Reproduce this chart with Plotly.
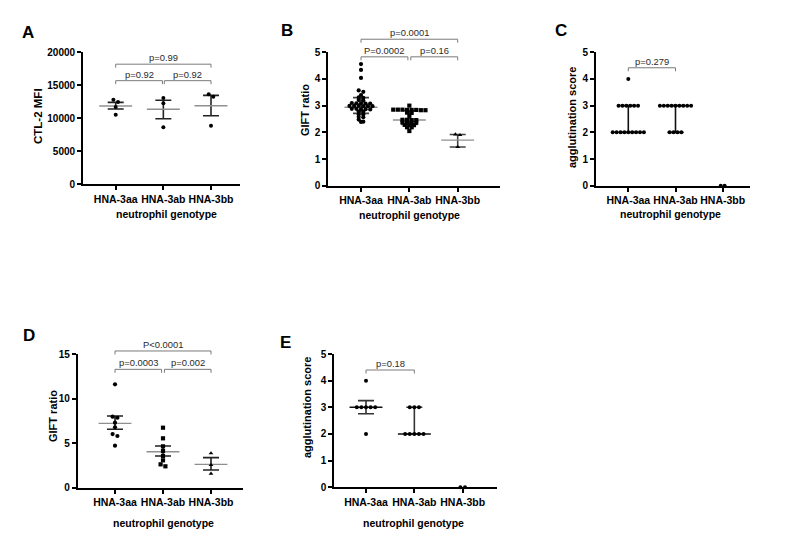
import numpy as np
import plotly.graph_objects as go

W, H = 800, 545

genotypes = ["HNA-3aa", "HNA-3ab", "HNA-3bb"]

# ---------------- Panel A: CTL-2 MFI ----------------
a_aa = [12470, 12820, 11710, 10545]
a_ab = [13076, 12273, 8636]
a_bb = [13636, 13273, 8879]
a_center = [11860, 11360, 11910]
a_low = [11410, 9940, 10390]
a_high = [12420, 12730, 13480]
a_ticks = [0, 5000, 10000, 15000, 20000]

# ---------------- Panel B: GIFT ratio ----------------
b_aa = [4.56, 4.34, 4.04, 3.57, 3.52, 3.40, 3.31, 3.29, 3.21, 3.19,
        3.10, 3.09, 3.09, 3.08, 3.08, 2.99, 2.99, 2.99, 2.98, 2.98, 2.98,
        2.88, 2.88, 2.87, 2.87, 2.86, 2.78, 2.77, 2.68, 2.67, 2.58, 2.57,
        2.48, 2.40, 2.39]
b_ab = [3.00, 2.85, 2.85, 2.85, 2.84, 2.84, 2.84, 2.83, 2.83, 2.74, 2.73, 2.62,
        2.47, 2.47, 2.46, 2.46, 2.37, 2.37, 2.36, 2.36, 2.28, 2.27, 2.27, 2.19,
        2.19, 2.05]
b_bb = [1.92, 1.90, 1.45]
b_center = [2.94, 2.46, 1.71]
b_low = [2.71, 2.30, 1.45]
b_high = [3.30, 2.82, 1.92]
b_ticks = [0, 1, 2, 3, 4, 5]

# ---------------- Panel C: agglutination score ----------------
c_aa = [2, 2, 2, 2, 2, 2, 2, 2, 2, 3, 3, 3, 3, 3, 3, 4]
c_ab = [2, 2, 2, 2, 3, 3, 3, 3, 3, 3, 3, 3, 3]
c_bb = [0, 0]
c_center = [2, 3]
c_low = [2, 2]
c_high = [3, 3]
c_ticks = [0, 1, 2, 3, 4, 5]

# ---------------- Panel D: GIFT ratio ----------------
d_aa = [11.6, 7.97, 7.85, 7.30, 6.78, 6.02, 5.80, 4.71]
d_ab = [6.73, 5.54, 4.64, 4.12, 3.56, 3.07, 2.62, 2.40]
d_bb = [3.86, 2.55, 1.57]
d_center = [7.22, 4.04, 2.62]
d_low = [6.55, 3.56, 1.99]
d_high = [8.04, 4.68, 3.37]
d_ticks = [0, 5, 10, 15]

# ---------------- Panel E: agglutination score ----------------
e_aa = [4, 3, 3, 3, 3, 3, 2]
e_ab = [3, 3, 3, 2, 2, 2, 2, 2]
e_bb = [0, 0]
e_center = [3.0, 2.0]
e_low = [2.76, 2.0]
e_high = [3.25, 3.0]
e_ticks = [0, 1, 2, 3, 4, 5]

# significance brackets: (from group, to group, height, label)
a_brackets = [(0, 2, 18200, "p=0.99"), (0, 0.98, 15700, "p=0.92"), (1.02, 2, 15700, "p=0.92")]
b_brackets = [(0, 2, 5.49, "p=0.0001"), (0, 0.97, 4.83, "P=0.0002"), (1.03, 2, 4.83, "p=0.16")]
c_brackets = [(0, 1, 4.42, "p=0.279")]
d_brackets = [(0, 2, 15.34, "P<0.0001"), (0, 0.97, 13.28, "p=0.0003"), (1.03, 2, 13.28, "p=0.002")]
e_brackets = [(0, 1, 4.40, "p=0.18")]

FONT = "Liberation Sans, Arial, sans-serif"
PFONT = "Liberation Sans, Arial, sans-serif"

# panel geometry in pixels
panels = [
    dict(name="A", left=83, right=240, top=52.3, bottom=184.3, c0=115.7, c2=211,
         ymax=20000, ticks=a_ticks, groups=[a_aa, a_ab, a_bb],
         center=a_center, low=a_low, high=a_high, brackets=a_brackets,
         symbols=["circle", "circle", "circle"], msize=4, dot=4.6, rowtol=2.6,
         ytitle="CTL-2 MFI", ytitle_size=11.5, ytx=38, yty=116, xtx=166, xty=214,
         letter_xy=(28, 32), center_color="#8f8f8f", cap_colors="#222"),
    dict(name="B", left=328.3, right=500, top=52.3, bottom=185.7, c0=361, c2=457.7,
         ymax=5, ticks=b_ticks, groups=[b_aa, b_ab, b_bb],
         center=b_center, low=b_low, high=b_high, brackets=b_brackets,
         symbols=["circle", "square", "triangle-up"], msize=4.2, dot=4.6, rowtol=2.2,
         ytitle="GIFT ratio", ytitle_size=11, ytx=305, yty=110, xtx=410, xty=215,
         letter_xy=(287, 30), center_color="#8f8f8f", cap_colors="#444"),
    dict(name="C", left=596, right=750, top=52.3, bottom=185.7, c0=628.3, c2=722.7,
         ymax=5, ticks=c_ticks, groups=[c_aa, c_ab, c_bb],
         center=c_center, low=c_low, high=c_high, brackets=c_brackets,
         symbols=["circle", "circle", "circle"], msize=4, dot=3.9, rowtol=2.0,
         ytitle="agglutination score", ytitle_size=11, ytx=572, yty=118, xtx=670, xty=214,
         letter_xy=(561, 30), center_color="#111", cap_colors="#111"),
    dict(name="D", left=77.7, right=243, top=354, bottom=487.7, c0=115, c2=211,
         ymax=15, ticks=d_ticks, groups=[d_aa, d_ab, d_bb],
         center=d_center, low=d_low, high=d_high, brackets=d_brackets,
         symbols=["circle", "square", "triangle-up"], msize=4.2, dot=4.8, rowtol=3.0,
         ytitle="GIFT ratio", ytitle_size=11, ytx=53, yty=416, xtx=163, xty=523,
         letter_xy=(29, 335), center_color="#8f8f8f", cap_colors="#222"),
    dict(name="E", left=334.3, right=496.7, top=354, bottom=487.3, c0=366, c2=462.7,
         ymax=5, ticks=e_ticks, groups=[e_aa, e_ab, e_bb],
         center=e_center, low=e_low, high=e_high, brackets=e_brackets,
         symbols=["circle", "circle", "circle"], msize=4, dot=4.6, rowtol=2.0,
         ytitle="agglutination score", ytitle_size=11, ytx=307, yty=408, xtx=414, xty=523,
         letter_xy=(285, 342), center_color="#111", cap_colors="#333"),
]


def swarm(values, px_per_unit, px_per_cat, dot_px, tol_px):
    """Spread points horizontally in rows of (nearly) equal value, centred."""
    vals = np.asarray(values, float)
    order = np.argsort(-vals, kind="stable")
    offsets = np.zeros(len(vals))
    rows = []
    for i in order:
        ypx = vals[i] * px_per_unit
        if rows and abs(rows[-1][0] - ypx) < tol_px:
            rows[-1][1].append(i)
        else:
            rows.append([ypx, [i]])
    for _, idx in rows:
        n = len(idx)
        for k, i in enumerate(idx):
            offsets[i] = (k - (n - 1) / 2) * dot_px / px_per_cat
    return offsets


fig = go.Figure()
layout = dict(width=W, height=H, margin=dict(l=0, r=0, t=0, b=0, pad=0), autosize=False,
              paper_bgcolor="white", plot_bgcolor="rgba(0,0,0,0)", showlegend=False)
annotations = []
bx, by = [], []   # bracket polylines in page pixels (overlay axes)

for k, p in enumerate(panels):
    sfx = "" if k == 0 else str(k + 1)
    xa, ya = "xaxis" + sfx, "yaxis" + sfx
    xr_, yr_ = "x" + sfx, "y" + sfx
    s = (p["c2"] - p["c0"]) / 2.0
    xrange = [-(p["c0"] - p["left"]) / s, 2 + (p["right"] - p["c2"]) / s]
    yrange = [0, p["ymax"]]
    px_per_unit = (p["bottom"] - p["top"]) / p["ymax"]
    xdom = [p["left"] / W, p["right"] / W]
    ydom = [1 - p["bottom"] / H, 1 - p["top"] / H]

    common = dict(showline=True, linecolor="black", linewidth=1.8, ticks="outside",
                  ticklen=4, tickwidth=1.6, tickcolor="black", showgrid=False,
                  zeroline=False, fixedrange=True, automargin=False)
    layout[xa] = dict(common, domain=xdom, range=xrange,
                      anchor=yr_, tickvals=[0, 1, 2], ticktext=genotypes,
                      tickfont=dict(family=FONT, size=10.5, color="black", weight="bold"))
    layout[ya] = dict(common, domain=ydom,
                      range=yrange, anchor=xr_, tickvals=p["ticks"],
                      ticktext=[str(t) for t in p["ticks"]],
                      tickfont=dict(family=FONT, size=10, color="black", weight="bold"))

    # summary bars (center line + whiskers)
    nbar = len(p["center"])
    cen = np.array(p["center"], float)
    lo = np.array(p["low"], float)
    hi = np.array(p["high"], float)
    fig.add_trace(go.Scatter(
        x=list(range(nbar)), y=cen, mode="markers", xaxis=xr_, yaxis=yr_,
        marker=dict(symbol="line-ew", size=23.5, color=p["center_color"],
                    line=dict(width=1.4, color=p["center_color"])),
        error_y=dict(type="data", symmetric=False, array=hi - cen, arrayminus=cen - lo,
                     width=8, thickness=1.6, color=p["cap_colors"]),
        cliponaxis=False, hoverinfo="skip"))

    # individual points
    for g, vals in enumerate(p["groups"]):
        offs = swarm(vals, px_per_unit, s, p["dot"], p["rowtol"])
        fig.add_trace(go.Scatter(
            x=g + offs, y=vals, mode="markers", xaxis=xr_, yaxis=yr_,
            marker=dict(symbol=p["symbols"][g], size=p["msize"], color="black",
                        line=dict(width=0)),
            cliponaxis=False, hoverinfo="skip"))

    # brackets: map group index / value to page pixels with the panel scale
    def gx(g):
        return p["c0"] + g * s

    def vy(v):
        return p["bottom"] - v * px_per_unit

    for (g0, g1, yv, label) in p["brackets"]:
        y_line = vy(yv)
        bx.extend([gx(g0), gx(g0), gx(g1), gx(g1), None])
        by.extend([y_line + 3.5, y_line, y_line, y_line + 3.5, None])
        annotations.append(dict(x=gx((g0 + g1) / 2) / W, y=1 - y_line / H,
                                xref="paper", yref="paper", text=label,
                                showarrow=False, xanchor="center", yanchor="bottom",
                                yshift=-1,
                                font=dict(family=PFONT, size=9.4, color="#2a2a2a")))

    # axis titles and panel letter
    annotations.append(dict(x=p["ytx"] / W, y=1 - p["yty"] / H, xref="paper", yref="paper",
                            text=p["ytitle"], textangle=-90, showarrow=False,
                            xanchor="center", yanchor="middle",
                            font=dict(family=FONT, size=p["ytitle_size"], color="black",
                                      weight="bold")))
    annotations.append(dict(x=p["xtx"] / W, y=1 - p["xty"] / H, xref="paper", yref="paper",
                            text="neutrophil genotype", showarrow=False,
                            xanchor="center", yanchor="middle",
                            font=dict(family=FONT, size=10.5, color="black", weight="bold")))
    lx, ly = p["letter_xy"]
    annotations.append(dict(x=lx / W, y=1 - ly / H, xref="paper", yref="paper",
                            text=p["name"], showarrow=False, xanchor="center", yanchor="middle",
                            font=dict(family=FONT, size=17, color="black", weight="bold")))

# overlay axes covering the whole page (pixel units) for the significance brackets
layout["xaxis6"] = dict(domain=[0, 1], range=[0, W], visible=False, fixedrange=True,
                        anchor="y6")
layout["yaxis6"] = dict(domain=[0, 1], range=[H, 0], visible=False, fixedrange=True,
                        anchor="x6")
fig.add_trace(go.Scatter(x=bx, y=by, mode="lines", xaxis="x6", yaxis="y6",
                         line=dict(color="#7a7a7a", width=1), hoverinfo="skip",
                         connectgaps=False))

layout["annotations"] = annotations
fig.update_layout(**layout)
fig.write_html("out.html", config={"displayModeBar": False},
               post_script="document.body.style.margin='0px';document.body.style.padding='0px';")
